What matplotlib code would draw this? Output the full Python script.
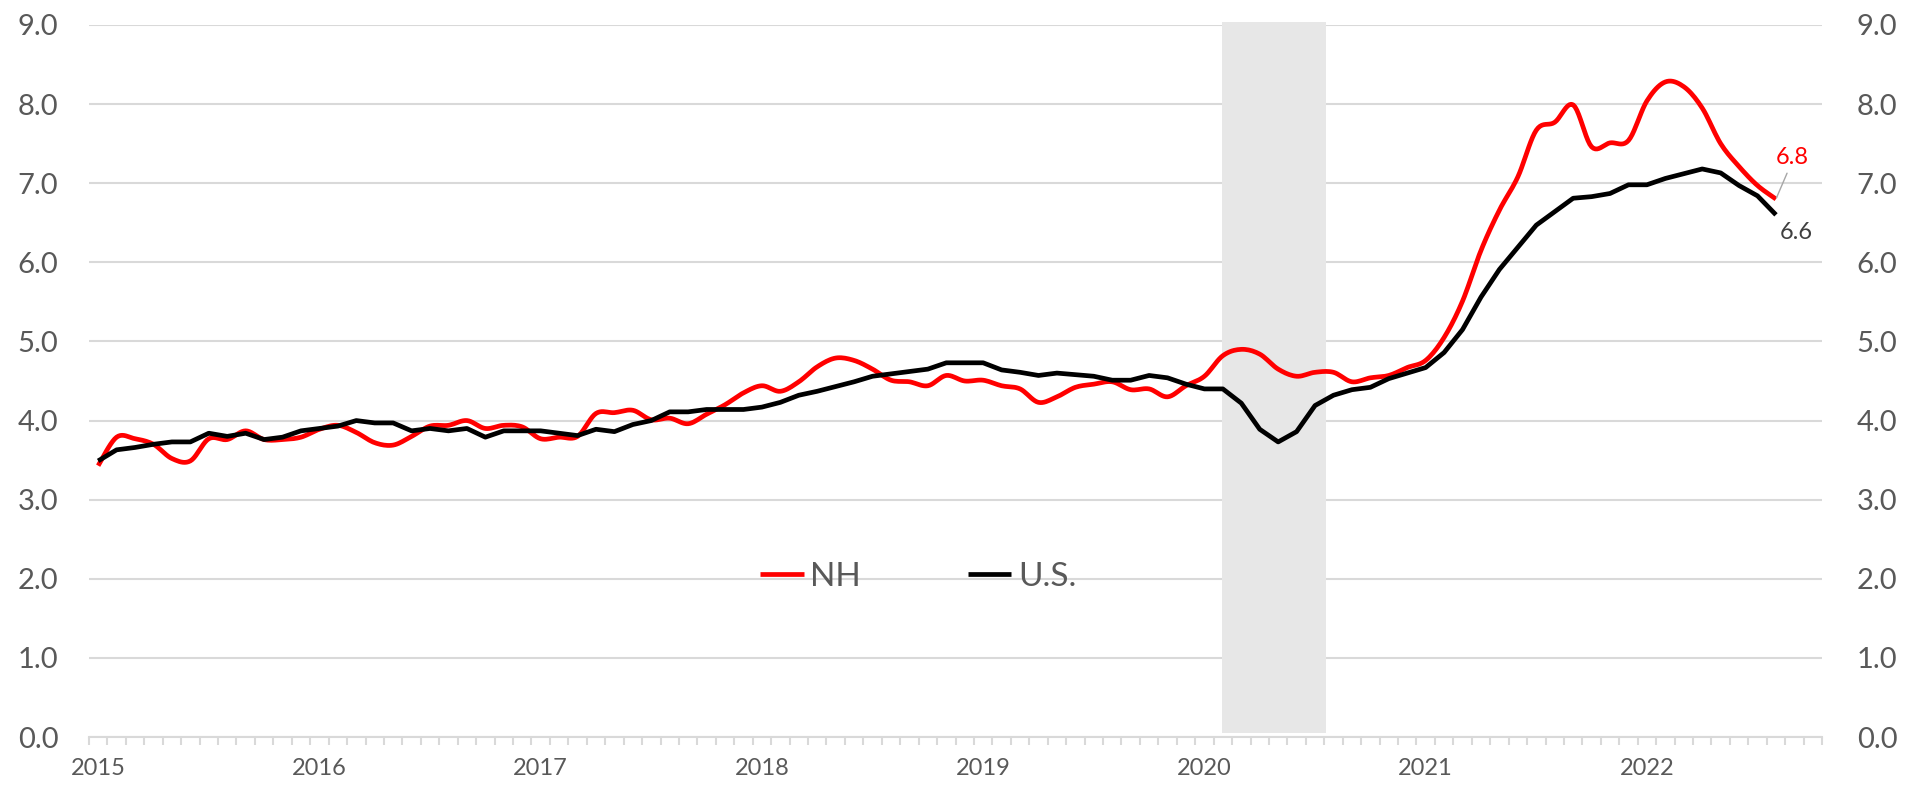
import numpy as np
import pandas as pd
import matplotlib
matplotlib.use("Agg")
import matplotlib.pyplot as plt

plt.rcParams['font.family'] = ['Lato', 'DejaVu Sans']

# monthly series, Jan 2015 - Aug 2022
months = pd.date_range("2015-01-01", periods=92, freq="MS")
nh = [3.43, 3.79, 3.77, 3.70, 3.52, 3.49, 3.77, 3.76, 3.87, 3.76, 3.76, 3.79,
      3.89, 3.94, 3.85, 3.72, 3.69, 3.80, 3.93, 3.94, 4.00, 3.90, 3.94, 3.92,
      3.77, 3.79, 3.80, 4.09, 4.10, 4.13, 4.01, 4.03, 3.96, 4.08, 4.20, 4.35,
      4.44, 4.37, 4.49, 4.68, 4.79, 4.76, 4.65, 4.51, 4.49, 4.44, 4.57, 4.50,
      4.51, 4.44, 4.40, 4.23, 4.30, 4.42, 4.46, 4.49, 4.39, 4.40, 4.30, 4.44,
      4.56, 4.82, 4.90, 4.84, 4.65, 4.56, 4.61, 4.61, 4.49, 4.54, 4.57, 4.67,
      4.76, 5.05, 5.51, 6.15, 6.66, 7.08, 7.67, 7.77, 7.99, 7.46, 7.51, 7.54,
      8.04, 8.28, 8.22, 7.95, 7.50, 7.21, 6.97, 6.80]
us = [3.49, 3.63, 3.66, 3.70, 3.73, 3.73, 3.84, 3.80, 3.84, 3.76, 3.79, 3.87,
      3.90, 3.93, 4.00, 3.97, 3.97, 3.87, 3.90, 3.87, 3.90, 3.79, 3.87, 3.87,
      3.87, 3.84, 3.81, 3.89, 3.86, 3.95, 4.00, 4.11, 4.11, 4.14, 4.14, 4.14,
      4.17, 4.23, 4.32, 4.37, 4.43, 4.49, 4.56, 4.59, 4.62, 4.65, 4.73, 4.73,
      4.73, 4.64, 4.61, 4.57, 4.60, 4.58, 4.56, 4.51, 4.51, 4.57, 4.54, 4.46,
      4.40, 4.40, 4.22, 3.89, 3.73, 3.86, 4.19, 4.32, 4.39, 4.42, 4.53, 4.60,
      4.67, 4.86, 5.15, 5.56, 5.91, 6.19, 6.47, 6.64, 6.81, 6.83, 6.87, 6.98,
      6.98, 7.06, 7.12, 7.18, 7.13, 6.97, 6.84, 6.60]
year_labels = ["2015", "2016", "2017", "2018", "2019", "2020", "2021", "2022"]
recession = ("2020-02-01", "2020-07-01")
n_slots = 94  # axis runs to Oct 2022

GRID = '#d9d9d9'
TXT = '#595959'


def catmull_rom(xv, yv, n=10):
    # smoothed line like the spreadsheet "smooth line" option
    p = np.column_stack([xv, yv]).astype(float)
    p = np.vstack([p[0], p, p[-1]])
    t = np.linspace(0, 1, n, endpoint=False)[:, None]
    out = []
    for i in range(1, len(p) - 2):
        p0, p1, p2, p3 = p[i - 1], p[i], p[i + 1], p[i + 2]
        seg = 0.5 * (2 * p1 + (-p0 + p2) * t + (2 * p0 - 5 * p1 + 4 * p2 - p3) * t ** 2
                     + (-p0 + 3 * p1 - 3 * p2 + p3) * t ** 3)
        out.append(seg)
    out.append(p[-2][None, :])
    out = np.vstack(out)
    return out[:, 0], out[:, 1]


fig = plt.figure(figsize=(19.21, 7.85), dpi=100)
ax = fig.add_axes([0.0463, 0.0611, 0.9022, 0.9071])
x = np.arange(len(months))

# recession shading
rs = months.get_loc(pd.Timestamp(recession[0]))
re_ = months.get_loc(pd.Timestamp(recession[1]))
ax.fill_between([rs - 0.02, re_ + 0.62], 0.05, 9.04, color='#e7e7e7', lw=0,
                zorder=1, clip_on=False)

sx, sy = catmull_rom(x, nh)
l_nh, = ax.plot(sx, sy, color='#ff0000', lw=3.4, zorder=3, solid_capstyle='butt')
l_us, = ax.plot(x, us, color='black', lw=3.4, zorder=4, solid_capstyle='butt')

ax.set_ylim(0, 9)
ax.set_xlim(-0.5, n_slots - 0.5)
ax.set_yticks(range(10))
ax.set_yticklabels([f"{v:.1f}" for v in range(10)])
ax.yaxis.grid(True, color=GRID, lw=1.5)
ax.set_axisbelow(True)
ax.tick_params(axis='y', length=0, pad=22, labelsize=21, labelcolor=TXT)

ax.set_xticks(np.arange(0, len(months), 12))
ax.set_xticklabels(year_labels)
ax.set_xticks(np.arange(n_slots + 1) - 0.5, minor=True)
ax.tick_params(axis='x', which='major', length=0, pad=15, labelsize=17, labelcolor=TXT)
ax.tick_params(axis='x', which='minor', length=6, width=1.5, color=GRID, direction='out')

for s in ['top', 'right', 'left']:
    ax.spines[s].set_visible(False)
ax.spines['bottom'].set_color(GRID)
ax.spines['bottom'].set_linewidth(1.5)

ax2 = ax.twinx()
ax2.set_ylim(0, 9)
ax2.set_yticks(range(10))
ax2.set_yticklabels([f"{v:.1f}" for v in range(10)])
ax2.tick_params(axis='y', length=0, pad=25, labelsize=21, labelcolor=TXT)
for s in ax2.spines.values():
    s.set_visible(False)

# end labels
ax.annotate(f"{nh[-1]:.1f}", xy=(x[-1], nh[-1]), xytext=(12, 30), textcoords='offset points',
            color='#ff0000', fontsize=17, ha='center', va='center',
            arrowprops=dict(arrowstyle='-', color='#a6a6a6', lw=1, relpos=(0.4, 0),
                            shrinkA=2, shrinkB=1))
ax.annotate(f"{us[-1]:.1f}", xy=(x[-1], us[-1]), xytext=(15, -13), textcoords='offset points',
            color='#404040', fontsize=17, ha='center', va='center')

fig.legend([l_nh, l_us], ['NH', 'U.S.'], loc='center', bbox_to_anchor=(0.478, 0.265),
           ncol=2, frameon=False, fontsize=24, handlelength=1.3, handletextpad=0.2,
           columnspacing=3.2, labelcolor=TXT)

fig.savefig('out.png', dpi=100)
